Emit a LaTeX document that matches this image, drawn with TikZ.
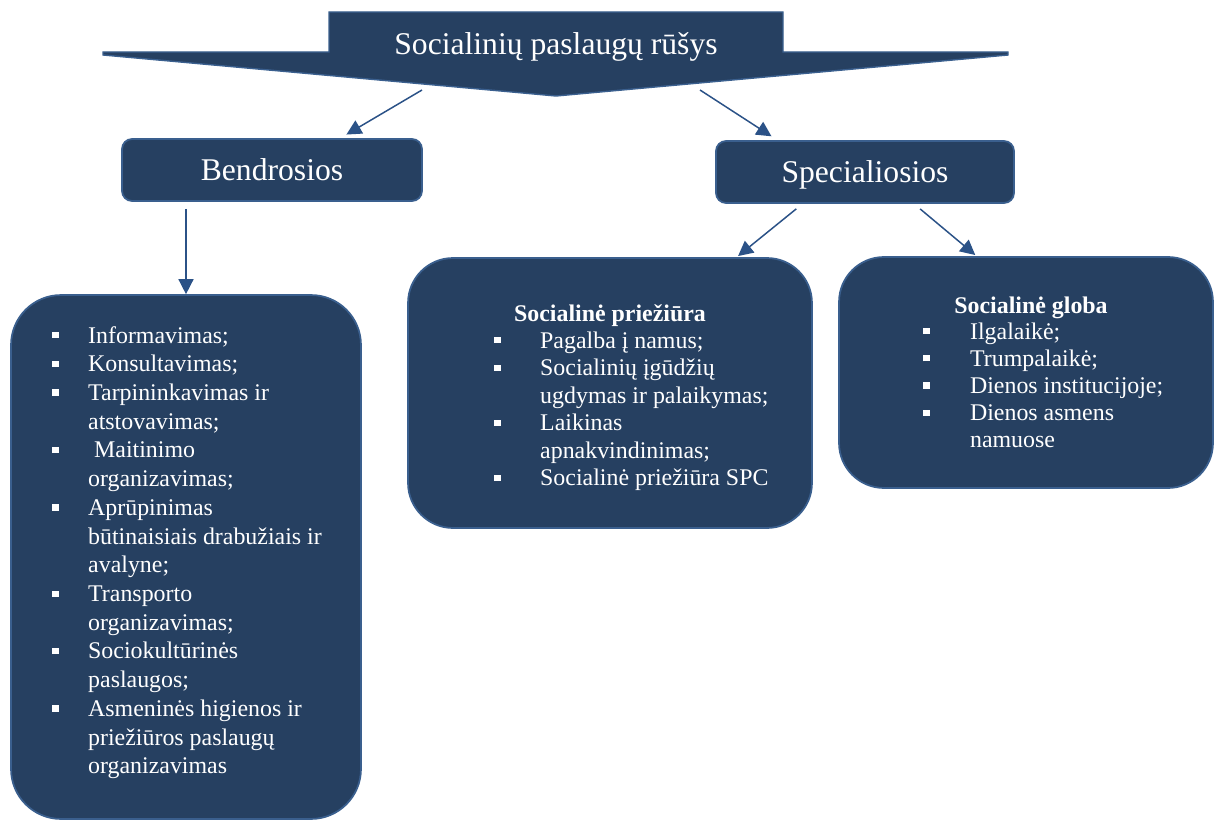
\documentclass[tikz,border=0pt]{standalone}
\usepackage{fontspec}
\setmainfont{Liberation Serif}
\usetikzlibrary{arrows.meta}
\definecolor{boxnavy}{HTML}{264061}
\definecolor{edgeblue}{HTML}{3A5F8E}
\definecolor{linkblue}{HTML}{2B5287}
\newcommand{\sqb}[1]{\makebox[#1][l]{\rule[0.2em]{0.26em}{0.26em}}}

\begin{document}
\begin{tikzpicture}[x=0.02cm, y=-0.02cm,
  box/.style={rectangle, draw=edgeblue, fill=boxnavy, line width=1pt, text=white},
  kind/.style={box, rounded corners=0.2cm, minimum height=1.24cm, font=\fontsize{18pt}{22pt}\selectfont, text height=11.9pt, text depth=0pt},
  link/.style={draw=linkblue, line width=0.85pt, -{Triangle[length=8.5pt, width=8.5pt]}},
  listtext/.style={text=white, inner sep=0pt, anchor=base west}]
  \useasboundingbox (0,0) rectangle (1214,821);
  % Header
  \filldraw[fill=boxnavy, draw=edgeblue, line width=0.8pt] (329,12) -- (783,12) -- (783,52) -- (1008,52) -- (1008,55) -- (556,96) -- (103,55) -- (103,52) -- (329,52) -- cycle;
  \node (title) [text=white, anchor=base, font=\fontsize{18pt}{22pt}\selectfont] at (556,55) {Socialinių paslaugų rūšys};
  \coordinate (title-l) at (422,90);
  \coordinate (title-r) at (700,90);
  % Nodes
  \node (bendr) [kind, minimum width=6cm] at (272,170) {Bendrosios};
  \node (spec) [kind, minimum width=5.96cm] at (865,172) {Specialiosios};
  \node (blist) [box, rounded corners=1cm, minimum width=7cm, minimum height=10.48cm] at (186,557) {};
  \node (prz) [box, rounded corners=0.9cm, minimum width=8.08cm, minimum height=5.4cm] at (610,393) {};
  \node (glob) [box, rounded corners=0.9cm, minimum width=7.48cm, minimum height=4.62cm] at (1026,372.5) {};
  % Lists
  \node (blist-txt) [listtext, font=\fontsize{13.6pt}{16.35pt}\selectfont] at (52,343) {%
    \begin{tabular}[t]{@{}l@{}l@{}}
      \sqb{20.4pt} & Informavimas; \\
      \sqb{20.4pt} & Konsultavimas; \\
      \sqb{20.4pt} & Tarpininkavimas ir \\
                   & atstovavimas; \\
      \sqb{20.4pt} & \hspace{0.25em}Maitinimo \\
                   & organizavimas; \\
      \sqb{20.4pt} & Aprūpinimas \\
                   & būtinaisiais drabužiais ir \\
                   & avalyne; \\
      \sqb{20.4pt} & Transporto \\
                   & organizavimas; \\
      \sqb{20.4pt} & Sociokultūrinės \\
                   & paslaugos; \\
      \sqb{20.4pt} & Asmeninės higienos ir \\
                   & priežiūros paslaugų \\
                   & organizavimas
    \end{tabular}};
  \node (prz-head) [text=white, inner sep=0pt, anchor=base, font=\fontsize{13.6pt}{16pt}\selectfont\bfseries] at (610,321) {Socialinė priežiūra};
  \node (prz-txt) [listtext, font=\fontsize{13.6pt}{15.7pt}\selectfont] at (494,348) {%
    \begin{tabular}[t]{@{}l@{}l@{}}
      \sqb{26.1pt} & Pagalba į namus; \\
      \sqb{26.1pt} & Socialinių įgūdžių \\
                   & ugdymas ir palaikymas; \\
      \sqb{26.1pt} & Laikinas \\
                   & apnakvindinimas; \\
      \sqb{26.1pt} & Socialinė priežiūra SPC
    \end{tabular}};
  \node (glob-head) [text=white, inner sep=0pt, anchor=base, font=\fontsize{13.6pt}{16pt}\selectfont\bfseries] at (1031,313) {Socialinė globa};
  \node (glob-txt) [listtext, font=\fontsize{13.6pt}{15.5pt}\selectfont] at (923,339) {%
    \begin{tabular}[t]{@{}l@{}l@{}}
      \sqb{26.6pt} & Ilgalaikė; \\
      \sqb{26.6pt} & Trumpalaikė; \\
      \sqb{26.6pt} & Dienos institucijoje; \\
      \sqb{26.6pt} & Dienos asmens \\
                   & namuose
    \end{tabular}};
  % Arrow
  \draw[link, shorten >=4pt] (title-l) -- (bendr.25);
  \draw[link, shorten >=4pt] (title-r) -- (spec.160);
  \draw[link, shorten <=4pt] (bendr.south -| blist.north) -- (blist.north);
  \draw[link, shorten <=4.5pt, shorten >=1pt] (spec.207) -- (prz.47);
  \draw[link, shorten <=4.5pt, shorten >=1pt] (spec.-33) -- (glob.113);
\end{tikzpicture}
\end{document}
